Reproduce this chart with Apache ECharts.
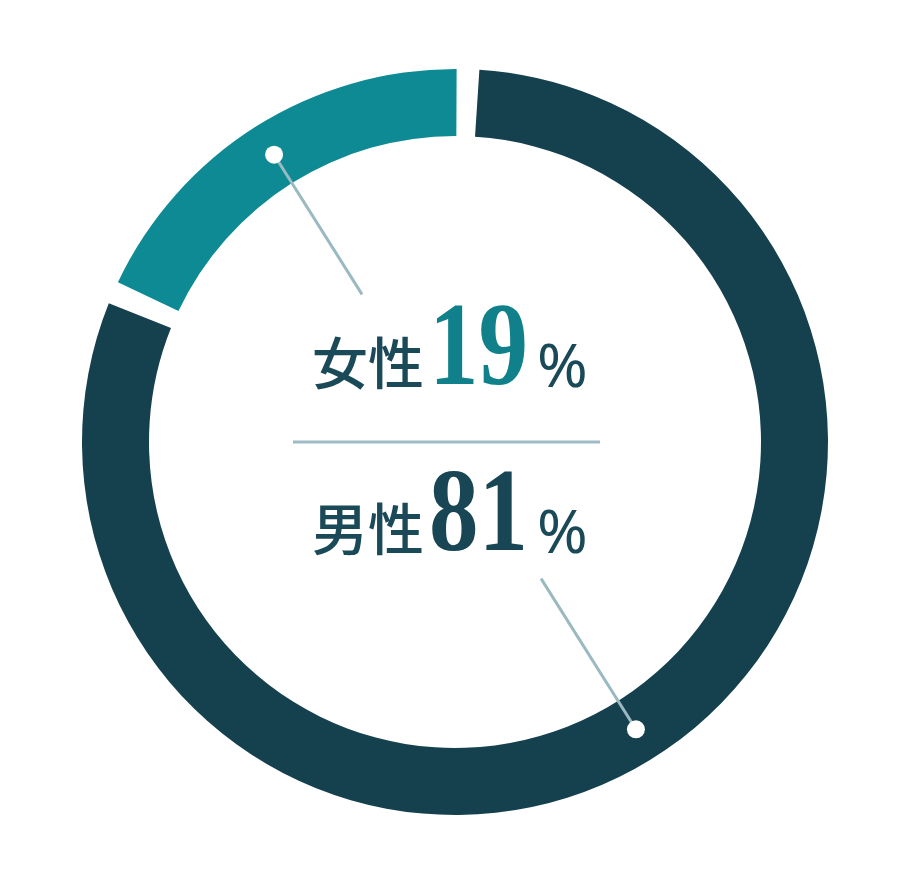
<!DOCTYPE html>
<html><head><meta charset="utf-8">
<script src="https://cdn.jsdelivr.net/npm/echarts@6/dist/echarts.min.js"></script>
<style>html,body{margin:0;padding:0;background:#fff}#c{width:910px;height:887px}</style>
</head><body><div id="c"></div>
<script>
const categories = ['女性', '男性'];
const values = [19, 81];
const colors = ['#0e8a94', '#15414f'];
const textColors = ['#10808a', '#184654'];

const W = 910, H = 887;
const cx = 455, cy = 442;
const rIn = 306, rOut = 373;
const startAngle = 88;
const padAngle = 3.5;

const chart = echarts.init(document.getElementById('c'), null, {renderer: 'canvas'});

const total = values.reduce((a, b) => a + b, 0);
const mids = [];
let acc = 0;
values.forEach(v => {
  const span = v / total * 360;
  mids.push(startAngle + acc + span / 2);
  acc += span;
});
const rMid = (rIn + rOut) / 2;
const lineLen = [165, 178];

const graphics = [];
mids.forEach((a, i) => {
  const rad = a * Math.PI / 180;
  const ux = Math.cos(rad), uy = -Math.sin(rad);
  const dx = cx + ux * rMid, dy = cy + uy * rMid;
  const ex = cx + ux * (rMid - lineLen[i]), ey = cy + uy * (rMid - lineLen[i]);
  graphics.push({
    type: 'line', z: 10,
    shape: {x1: dx, y1: dy, x2: ex, y2: ey},
    style: {stroke: '#9bb9c1', lineWidth: 3}
  });
  graphics.push({
    type: 'circle', z: 11,
    shape: {cx: dx, cy: dy, r: 9},
    style: {fill: '#ffffff'}
  });
});

graphics.push({
  type: 'line', z: 10,
  shape: {x1: 293, y1: 442, x2: 600, y2: 442},
  style: {stroke: '#9dbcc5', lineWidth: 3}
});

const rowBase = [387, 553];
categories.forEach((c, i) => {
  graphics.push({
    type: 'text', z: 12, x: 312, y: rowBase[i] + 4,
    style: {text: c, font: '500 56px "Noto Sans CJK JP"', fill: '#1a4a57', textVerticalAlign: 'bottom', textAlign: 'left'}
  });
  graphics.push({
    type: 'text', z: 12, x: 429, y: rowBase[i] + 26, scaleX: 0.84,
    style: {text: String(values[i]), font: 'bold 118px "Liberation Serif"', fill: textColors[i], textVerticalAlign: 'bottom', textAlign: 'left'}
  });
  graphics.push({
    type: 'text', z: 12, x: 537, y: rowBase[i] + 13,
    style: {text: '%', font: '61px "Noto Sans"', fill: '#1a4a57', textVerticalAlign: 'bottom', textAlign: 'left'}
  });
});

chart.setOption({
  animation: false,
  series: [{
    type: 'pie',
    center: [cx, cy],
    radius: [rIn, rOut],
    startAngle: startAngle,
    clockwise: false,
    padAngle: padAngle,
    label: {show: false},
    labelLine: {show: false},
    silent: true,
    data: categories.map((c, i) => ({name: c, value: values[i], itemStyle: {color: colors[i]}}))
  }],
  graphic: graphics
});
</script></body></html>
